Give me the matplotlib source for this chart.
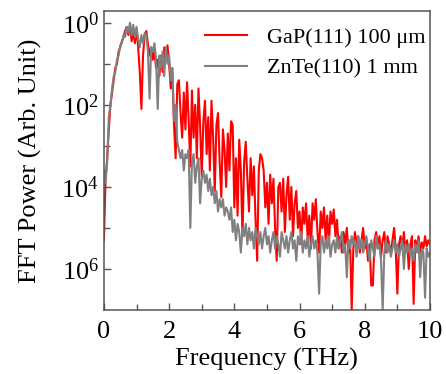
import numpy as np
import matplotlib
matplotlib.use("Agg")
import matplotlib.pyplot as plt

plt.rcParams["font.family"] = ["Liberation Serif", "DejaVu Serif"]
plt.rcParams["mathtext.fontset"] = "custom"
plt.rcParams["mathtext.rm"] = "Liberation Serif"
plt.rcParams["mathtext.it"] = "Liberation Serif:italic"

# frequency grid (THz), 0.05 THz steps
freq = np.linspace(0, 10, 201)

# log10 of FFT power
gap_log = [-5.3, -3.8, -3.3, -2.6, -2.0, -1.7, -1.4, -1.1, -1.0, -0.7,
           -0.6, -0.45, -0.35, -0.2, -0.1, -0.3, -0.05, -0.45, -0.2, -0.5,
           -0.15, -0.6, -1.2, -2.1, -0.8, -0.3, -0.2, -0.5, -0.8, -0.6,
           -0.9, -0.7, -1.1, -0.9, -1.3, -0.8, -1.2, -0.6, -0.9, -0.55,
           -1.0, -1.6, -1.2, -2.5, -3.3, -1.5, -1.4, -2.2, -2.8, -1.7,
           -2.6, -1.45, -2.4, -3.5, -1.65, -2.8, -2.0, -3.3, -1.6, -2.5,
           -3.75, -2.4, -1.9, -3.2, -2.3, -3.6, -1.9, -2.8, -4.1, -2.5,
           -2.2, -3.4, -4.25, -2.6, -3.1, -4.0, -2.7, -3.6, -2.4, -2.5,
           -4.5, -3.3, -4.7, -2.85, -3.6, -5.2, -3.4, -2.9, -3.8, -4.6,
           -3.3, -4.2, -3.5, -4.8, -5.8, -3.6, -3.2, -3.3, -3.6, -4.5,
           -3.9, -4.9, -3.7, -4.4, -3.8, -5.0, -5.8, -4.0, -3.9, -4.6,
           -3.8, -5.1, -4.2, -3.75, -4.8, -4.0, -5.2, -4.4, -4.1, -5.0,
           -4.6, -5.4, -4.5, -4.9, -4.4, -5.3, -4.7, -5.5, -4.4, -4.8,
           -4.3, -5.1, -5.6, -4.6, -5.0, -4.5, -5.3, -4.7, -5.4, -4.6,
           -4.9, -4.55, -5.2, -4.8, -5.5, -5.2, -5.6, -5.1, -5.4, -5.0,
           -5.6, -5.3, -7.0, -5.5, -5.1, -5.4, -5.2, -5.6, -5.3, -5.0,
           -5.5, -5.3, -5.8, -5.4, -6.4, -6.4, -5.3, -5.1, -5.5, -5.2,
           -5.7, -5.3, -5.1, -5.6, -5.2, -5.4, -5.6, -5.3, -5.0, -5.5,
           -6.6, -5.4, -5.2, -5.5, -5.1, -5.6, -5.3, -6.0, -5.4, -5.2,
           -6.85, -5.3, -5.5, -5.2, -5.6, -5.35, -5.5, -5.2, -5.45, -5.3,
           -5.4]

znte_log = [-3.6, -3.9, -3.4, -2.3, -2.0, -1.6, -1.3, -1.2, -0.9, -0.8,
            -0.55, -0.5, -0.3, -0.35, -0.1, -0.25, 0.0, -0.3, -0.05, -0.35,
            -0.1, -0.4, -0.6, -0.3, -0.5, -0.25, -0.3, -0.7, -1.85, -0.6,
            -0.7, -0.5, -0.9, -2.1, -0.8, -1.1, -0.7, -1.3, -0.6, -1.0,
            -0.8, -1.4, -1.1, -2.4, -2.0, -2.9, -3.1, -3.3, -3.1, -3.6,
            -3.2, -3.3, -3.1, -5.0, -3.4, -3.2, -3.9, -3.5, -3.3, -4.4,
            -3.8, -3.6, -3.9, -3.7, -4.1, -3.8, -4.2, -4.0, -4.4, -4.1,
            -4.6, -4.3, -4.5, -4.3, -4.7, -4.5, -4.6, -4.8, -4.5, -5.1,
            -4.8, -5.3, -4.9, -5.1, -5.6, -5.0, -5.2, -4.9, -5.4, -5.0,
            -5.3, -5.1, -5.5, -5.0, -5.2, -5.4, -5.1, -5.5, -5.2, -5.0,
            -5.4, -5.2, -5.6, -5.3, -5.1, -5.5, -5.2, -5.4, -5.7, -5.1,
            -5.3, -5.5, -5.2, -5.6, -5.3, -5.1, -5.5, -5.3, -5.8, -5.2,
            -5.4, -5.1, -5.6, -5.3, -5.5, -5.2, -5.7, -5.4, -5.2, -5.5,
            -5.3, -5.6, -6.6, -5.4, -5.2, -5.6, -5.3, -5.5, -5.2, -5.7,
            -5.4, -5.3, -5.6, -5.2, -5.5, -5.3, -5.1, -5.6, -5.4, -6.2,
            -5.3, -5.5, -5.2, -5.4, -5.3, -5.7, -5.2, -5.5, -5.3, -5.6,
            -5.4, -5.2, -5.5, -5.8, -5.3, -5.5, -5.7, -5.2, -5.5, -5.4,
            -5.8, -7.0, -5.6, -5.3, -5.6, -5.4, -5.7, -5.5, -5.3, -5.6,
            -5.4, -5.7, -5.5, -5.3, -6.0, -5.4, -5.6, -5.4, -5.7, -5.5,
            -5.8, -5.4, -5.6, -5.3, -6.2, -5.5, -5.6, -6.7, -5.5, -5.7,
            -5.6]

gap_label = "GaP(111) 100 \u03bcm"
znte_label = "ZnTe(110) 1 mm"

ytick_vals = [1, 1e-2, 1e-4, 1e-6]
ytick_text = ["$10^{0}$", "$10^{2}$", "$10^{4}$", "$10^{6}$"]
ytick_minor = [1e-1, 1e-3, 1e-5]

fig = plt.figure(figsize=(4.46, 3.74), dpi=100)
ax = fig.add_axes([0.233, 0.171, 0.731, 0.80])

ax.plot(freq, 10 ** np.array(gap_log), color="#ff0000", lw=1.5, label=gap_label)
ax.plot(freq, 10 ** np.array(znte_log), color="#808080", lw=1.5, label=znte_label)

ax.set_yscale("log")
ax.set_xlim(0, 10)
ax.set_ylim(1e-7, 10 ** 0.29)
ax.set_yticks(ytick_vals)
ax.set_yticklabels(ytick_text)
ax.set_yticks(ytick_minor, minor=True)
ax.set_yticklabels([], minor=True)
ax.set_xticks(np.arange(0, 11, 2))
ax.set_xticks(np.arange(1, 10, 2), minor=True)

edge = "#555555"
for s in ax.spines.values():
    s.set_color(edge)
    s.set_linewidth(1.1)
ax.tick_params(which="both", direction="in", color=edge, labelsize=19,
               top=False, right=False)
ax.tick_params(which="major", length=5, width=1)
ax.tick_params(which="minor", length=4, width=1)
ax.tick_params(axis="x", pad=8)

ax.set_xlabel("Frequency (THz)", fontsize=19)
ax.set_ylabel("FFT Power (Arb. Unit)", fontsize=19)
ax.xaxis.set_label_coords(0.5, -0.128)
ax.yaxis.set_label_coords(-0.19, 0.5)

ax.legend(loc="upper right", bbox_to_anchor=(1.0, 0.96), frameon=False,
          fontsize=16, handlelength=1.9, handletextpad=0.9,
          labelspacing=0.45, borderaxespad=0.0, borderpad=0.2)

fig.savefig("out.png", dpi=100)
